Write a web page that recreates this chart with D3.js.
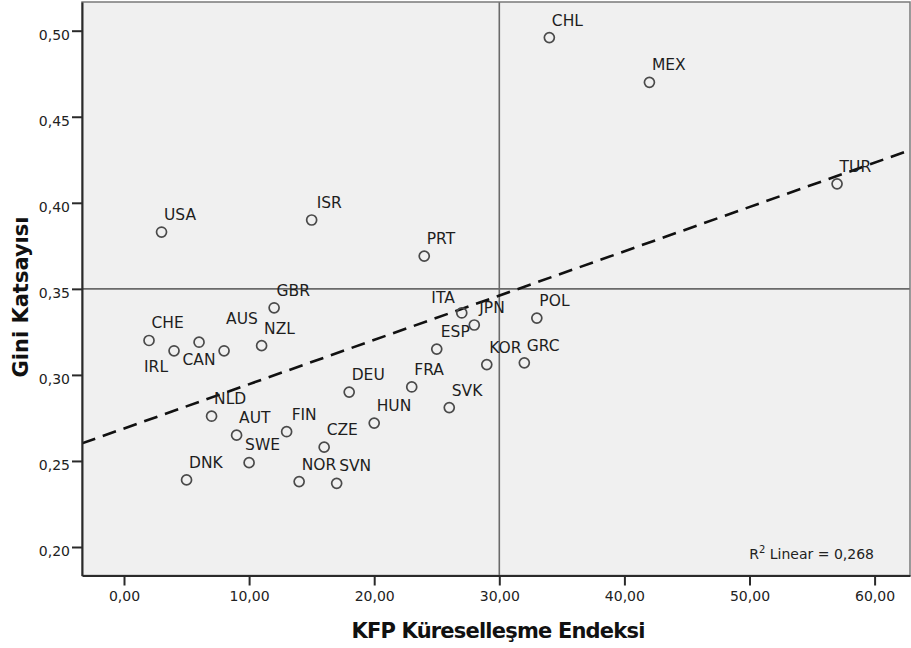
<!DOCTYPE html>
<html>
<head>
<meta charset="utf-8">
<script src="https://cdn.jsdelivr.net/npm/d3@7"></script>
<style>
  html, body { margin: 0; padding: 0; background: #ffffff; }
  svg { display: block; }
</style>
</head>
<body>
<svg id="chart" width="911" height="648"></svg>
<script>
// ---- Data ----
const countries = ["USA","ISR","PRT","CHL","MEX","TUR","CHE","IRL","CAN","AUS",
                   "NZL","GBR","NLD","AUT","SWE","DNK","FIN","NOR","SVN","CZE",
                   "HUN","DEU","FRA","SVK","ESP","ITA","JPN","KOR","GRC","POL"];
const kfpIndex = [3,15,24,34,42,57,2,4,6,8,
                  11,12,7,9,10,5,13,14,17,16,
                  20,18,23,26,25,27,28,29,32,33];
const giniValues = [0.383,0.390,0.369,0.496,0.470,0.411,0.320,0.314,0.319,0.314,
                    0.317,0.339,0.276,0.265,0.249,0.239,0.267,0.238,0.237,0.258,
                    0.272,0.290,0.293,0.281,0.315,0.336,0.329,0.306,0.307,0.333];
const xTicks = [0,10,20,30,40,50,60];
const yTicks = [0.20,0.25,0.30,0.35,0.40,0.45,0.50];
const refX = 30;
const refY = 0.35;
const r2Text = "0,268";
const xTitle = "KFP Küreselleşme Endeksi";
const yTitle = "Gini Katsayısı";

// ---- Label placement tweaks (layout only) ----
const labelNudge = {
  IRL: {anchor: "end", dx: -6, dy: 21},
  CAN: {anchor: "middle", dx: 0, dy: 23},
  AUS: {dx: 2, dy: -27},
  SWE: {dx: -4, dy: -13},
  ITA: {anchor: "end", dx: -7, dy: -10},
  FIN: {dx: 5}, ESP: {dx: 4}, JPN: {dx: 5}, ISR: {dx: 5}
};

// ---- Layout ----
const W = 911, H = 648;
const plot = {left: 82, top: 2, right: 910, bottom: 575.5};

// scales: 0 -> 124px, 10 units = 125.1px ; 0.20 -> 547px, 0.50 -> 30.7px
const xPerUnit = 12.51, x0px = 124;
const yPerUnit = 1721, y020px = 547;
const x = d3.scaleLinear()
  .domain([(plot.left - x0px) / xPerUnit, (plot.right - x0px) / xPerUnit])
  .range([plot.left, plot.right]);
const y = d3.scaleLinear()
  .domain([0.20 - (plot.bottom - y020px) / yPerUnit, 0.20 + (y020px - plot.top) / yPerUnit])
  .range([plot.bottom, plot.top]);

const points = countries.map((c, i) => ({name: c, x: kfpIndex[i], y: giniValues[i]}));

// Least squares fit
const mx = d3.mean(kfpIndex), my = d3.mean(giniValues);
let sxy = 0, sxx = 0;
points.forEach(p => { sxy += (p.x - mx) * (p.y - my); sxx += (p.x - mx) * (p.x - mx); });
const slope = sxy / sxx, intercept = my - slope * mx;

const svg = d3.select("#chart");
const commaFmt = (f) => (v) => d3.format(f)(v).replace(".", ",");

svg.append("defs").append("clipPath").attr("id", "clip")
  .append("rect").attr("x", plot.left).attr("y", plot.top)
  .attr("width", plot.right - plot.left).attr("height", plot.bottom - plot.top);

// background
svg.append("rect")
  .attr("x", plot.left).attr("y", plot.top)
  .attr("width", plot.right - plot.left).attr("height", plot.bottom - plot.top)
  .attr("fill", "#f0f0f0");

// reference lines
svg.append("line")
  .attr("x1", x(refX)).attr("x2", x(refX))
  .attr("y1", plot.top).attr("y2", plot.bottom)
  .attr("stroke", "#6a6a6a").attr("stroke-width", 1.6);
svg.append("line")
  .attr("x1", plot.left).attr("x2", plot.right)
  .attr("y1", y(refY)).attr("y2", y(refY))
  .attr("stroke", "#6a6a6a").attr("stroke-width", 1.6);

// fit line
const xd = x.domain();
svg.append("line")
  .attr("clip-path", "url(#clip)")
  .attr("x1", x(xd[0])).attr("y1", y(intercept + slope * xd[0]))
  .attr("x2", x(xd[1])).attr("y2", y(intercept + slope * xd[1]))
  .attr("stroke", "#111").attr("stroke-width", 2.6)
  .attr("stroke-dasharray", "14,8");

// points
svg.append("g").selectAll("circle").data(points).join("circle")
  .attr("cx", d => x(d.x)).attr("cy", d => y(d.y)).attr("r", 5)
  .attr("fill", "none").attr("stroke", "#4a4a4a").attr("stroke-width", 1.7);

// labels
svg.append("g").selectAll("text").data(points).join("text")
  .attr("x", d => x(d.x) + ((labelNudge[d.name] && labelNudge[d.name].dx !== undefined) ? labelNudge[d.name].dx : 2.5))
  .attr("y", d => y(d.y) + ((labelNudge[d.name] && labelNudge[d.name].dy !== undefined) ? labelNudge[d.name].dy : -12))
  .attr("text-anchor", d => (labelNudge[d.name] && labelNudge[d.name].anchor) || "start")
  .attr("font-family", "'DejaVu Sans', Verdana, sans-serif")
  .attr("font-size", 15.5)
  .attr("fill", "#1e1e1e")
  .text(d => d.name);

// frame top/right
svg.append("rect")
  .attr("x", plot.left).attr("y", plot.top)
  .attr("width", plot.right - plot.left).attr("height", plot.bottom - plot.top)
  .attr("fill", "none").attr("stroke", "#7a7a7a").attr("stroke-width", 1.5);

// axes
const xAxis = d3.axisBottom(x).tickValues(xTicks).tickFormat(commaFmt(".2f"))
  .tickSize(10).tickPadding(6).tickSizeOuter(0);
const gx = svg.append("g").attr("transform", `translate(0,${plot.bottom})`).call(xAxis);
const yAxis = d3.axisLeft(y).tickValues(yTicks).tickFormat(commaFmt(".2f"))
  .tickSize(10).tickPadding(2).tickSizeOuter(0);
const gy = svg.append("g").attr("transform", `translate(${plot.left},0)`).call(yAxis);

[gx, gy].forEach(g => {
  g.select(".domain").attr("stroke", "#2a2a2a").attr("stroke-width", 2);
  g.selectAll(".tick line").attr("stroke", "#2a2a2a").attr("stroke-width", 2);
  g.selectAll(".tick text")
    .attr("font-family", "'DejaVu Sans', Verdana, sans-serif")
    .attr("font-size", 14).attr("fill", "#222");
});
gy.selectAll(".tick text").attr("dy", "0.6em");
gx.selectAll(".tick text").attr("dy", "0.71em");

// R^2 annotation
const r2 = svg.append("text")
  .attr("x", plot.right - 36).attr("y", plot.bottom - 16.5)
  .attr("text-anchor", "end")
  .attr("font-family", "'DejaVu Sans', Verdana, sans-serif")
  .attr("font-size", 14).attr("fill", "#222");
r2.append("tspan").text("R");
r2.append("tspan").attr("font-size", 10).attr("dy", -6).text("2");
r2.append("tspan").attr("dy", 6).text(" Linear = " + r2Text);

// axis titles
svg.append("text")
  .attr("x", (plot.left + plot.right) / 2 + 2).attr("y", 638)
  .attr("text-anchor", "middle")
  .attr("font-family", "'DejaVu Sans', Verdana, sans-serif")
  .attr("font-weight", "bold").attr("font-size", 21)
  .attr("letter-spacing", "-0.8px")
  .attr("fill", "#111")
  .text(xTitle);
svg.append("text")
  .attr("transform", `translate(28,${297}) rotate(-90)`)
  .attr("text-anchor", "middle")
  .attr("font-family", "'DejaVu Sans', Verdana, sans-serif")
  .attr("font-weight", "bold").attr("font-size", 21)
  .attr("fill", "#111")
  .text(yTitle);
</script>
</body>
</html>
